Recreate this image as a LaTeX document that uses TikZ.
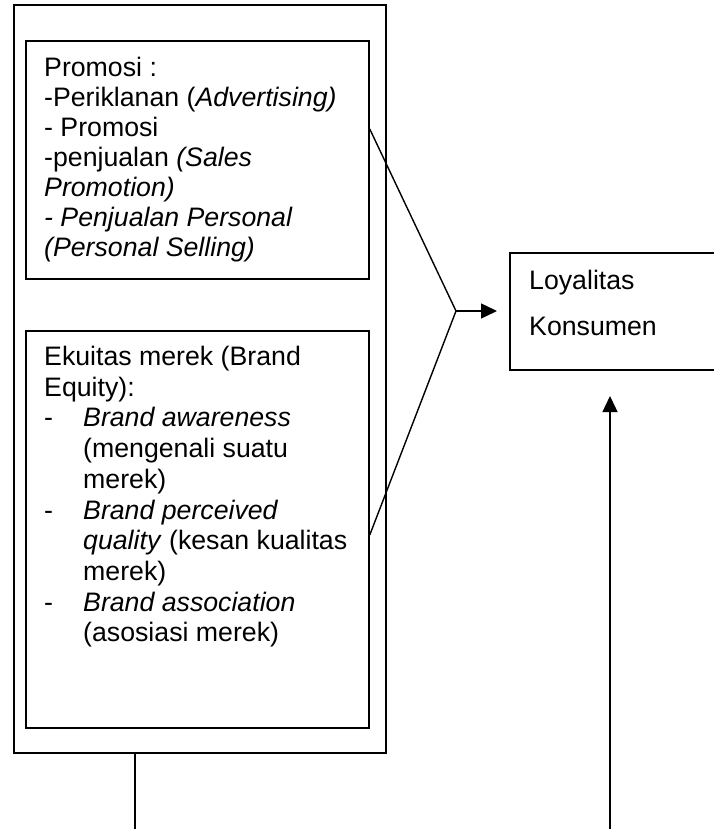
\documentclass[tikz,border=0pt]{standalone}
\usepackage{fontspec}
\setmainfont{Liberation Sans}
\usetikzlibrary{arrows.meta,positioning}

\newcommand{\itemdash}{\makebox[39pt][l]{-}}
\newcommand{\itemgap}{\hspace*{39pt}}

\tikzset{
  box/.style={draw, rectangle, line width=1.5pt, inner sep=0pt},
  txt/.style={anchor=north west, inner sep=0pt, align=left,
    font=\fontsize{26.7}{30}\selectfont},
  link/.style={line width=1.4pt},
  tip/.style={-{Triangle[length=16pt,width=15pt]}}
}

\begin{document}
\begin{tikzpicture}[x=1pt,y=-1pt]
		\useasboundingbox (0,0) rectangle (713,829);

		% Koordinat
		\coordinate (join) at (456,311);
		\coordinate (joinend) at (497,311);
		\coordinate (tail) at (135,829);
		\coordinate (upfoot) at (610,829);
		\coordinate (uptip) at (610,396);

		% Kotak
		\node[box, minimum width=372pt, minimum height=748pt] (outer) at (200,379) {};
		\node[box, minimum width=343pt, minimum height=238pt] (promo) at (197.5,160) {};
		\node[box, minimum width=343pt, minimum height=397pt] (ekuitas) at (197.5,529.5) {};
		\node[box, minimum width=240pt, minimum height=117pt] (loyal) at (630,311.5) {};

		% Teks
		\node[txt] (promotxt) at (44,57) {Promosi :\\
			-Periklanan (\textit{Advertising)}\\
			- Promosi\\
			-penjualan \textit{(Sales}\\
			\textit{Promotion)}\\
			\textit{- Penjualan Personal}\\
			\textit{(Personal Selling)}};
		\node[txt, font=\fontsize{26.7}{30.7}\selectfont] (ekuitastxt) at (44,346) {Ekuitas merek (Brand\\
			Equity):\\
			\itemdash\textit{Brand awareness}\\
			\itemgap(mengenali suatu\\
			\itemgap merek)\\
			\itemdash\textit{Brand perceived}\\
			\itemgap\textit{quality} (kesan kualitas\\
			\itemgap merek)\\
			\itemdash\textit{Brand association}\\
			\itemgap(asosiasi merek)};
		\node[txt, font=\fontsize{26.7}{46}\selectfont] (loyaltxt) at (529,270) {Loyalitas\\Konsumen};

		% Garis
		\draw[link] (promo.east |- 0,129) -- (join);
		\draw[link] (ekuitas.east |- 0,535) -- (join);
		\draw[link, tip] (join) -- (joinend);
		\draw[link] (tail |- outer.south) -- (tail);
		\draw[link, tip] (upfoot) -- (uptip);
	\end{tikzpicture}
\end{document}
